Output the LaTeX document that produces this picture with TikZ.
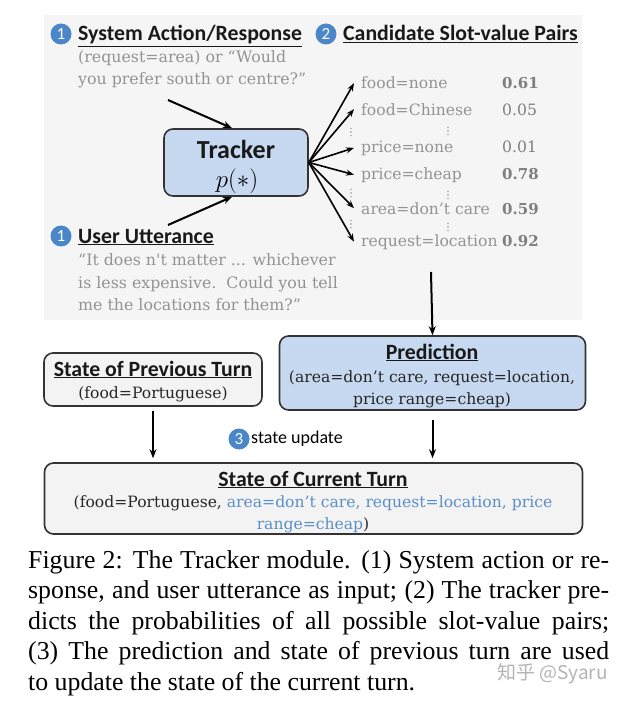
\documentclass[tikz,border=0pt]{standalone}
\usepackage{fontspec}
\setmainfont{Liberation Serif}
\newfontfamily\calfont{Carlito}
\newfontfamily\camfont{DejaVu Serif}
\newfontfamily\cjkfont{Noto Sans CJK SC}
\usetikzlibrary{arrows.meta}
\definecolor{panelgray}{HTML}{F5F5F5}
\definecolor{boxgray}{HTML}{F3F3F3}
\definecolor{boxblue}{HTML}{C6D9F0}
\definecolor{edgegray}{HTML}{333333}
\definecolor{txtgray}{HTML}{939393}
\definecolor{numgray}{HTML}{7F7F7F}
\definecolor{circblue}{HTML}{4A86C8}
\definecolor{hlblue}{HTML}{5A8FC8}
\definecolor{wmgray}{HTML}{B4B4B4}
\tikzset{
  txt/.style={inner sep=0pt, anchor=base west},
  headtxt/.style={txt, font=\calfont\bfseries\fontsize{21.8}{24}\selectfont, text=black!90},
  graytxt/.style={txt, font=\camfont\fontsize{15.8}{20}\selectfont, text=txtgray},
  itemtxt/.style={anchor=base west, inner ysep=0pt, inner xsep=7pt, font=\camfont\fontsize{15.6}{20}\selectfont, text=txtgray},
  numtxt/.style={txt, font=\camfont\fontsize{15.6}{20}\selectfont, text=numgray},
  bnumtxt/.style={numtxt, font=\camfont\bfseries\fontsize{15}{20}\selectfont},
  badge/.style={circle, fill=circblue, text=white, inner sep=0pt, minimum size=21pt, font=\calfont\fontsize{17}{18}\selectfont},
  boxstyle/.style={draw=edgegray, line width=1.6pt, rounded corners=9pt, inner sep=0pt},
  bodytxt/.style={inner sep=0pt, anchor=base, font=\camfont\fontsize{15.6}{20}\selectfont, text=black!85},
  arr/.style={line width=2pt, -{Stealth[length=9pt,width=7pt]}},
  farr/.style={line width=1.6pt, -{Stealth[length=8pt,width=6pt]}},
  dotc/.style={fill=txtgray, draw=none, circle, inner sep=0pt, minimum size=1.6pt},
  captxt/.style={inner sep=0pt, anchor=base west, font=\fontsize{25.8}{30}\selectfont}
}
\begin{document}
\begin{tikzpicture}[x=1pt,y=-1pt]
\useasboundingbox (0,0) rectangle (625,706);
\fill[white] (0,0) rectangle (625,706);
\fill[panelgray] (44,15) rectangle (582,320);

% ---- headings
\node[badge] (b1) at (61,34) {1};
\node[headtxt] (syshead) at (78,41) {\underline{System Action/Response}};
\node[badge] (b2) at (326,34) {2};
\node[headtxt] (candhead) at (343,41) {\underline{Candidate Slot-value Pairs}};
\node[graytxt] (sys1) at (78,63) {(request=area) or “Would};
\node[graytxt] (sys2) at (78,85) {you prefer south or centre?”};

\node[badge] (b1b) at (61,236) {1};
\node[headtxt] (usrhead) at (78,243) {\underline{User Utterance}};
\node[graytxt] (usr1) at (78,265) {“It does n't matter ... whichever};
\node[graytxt] (usr2) at (78,288) {is less expensive.\ \ Could you tell};
\node[graytxt] (usr3) at (78,310) {me the locations for them?”};

% ---- tracker
\node[boxstyle, fill=boxblue, minimum width=144pt, minimum height=67pt] (tracker) at (236,162.5) {};
\node[inner sep=0pt, anchor=base, font=\calfont\bfseries\fontsize{26}{28}\selectfont, text=black!90] (trackt) at (236,158) {Tracker};
\node[inner sep=0pt, anchor=base, font=\fontsize{25}{28}\selectfont] (trackp) at (237,187) {$p(*)$};

\coordinate (sysout) at (168,100);
\coordinate (usrout) at (168,225);
\draw[arr] (sysout) -- ([xshift=-4pt]tracker.north);
\draw[arr] (usrout) -- ([xshift=-4pt]tracker.south);

% ---- candidate pairs
\node[itemtxt] (i1) at (354,89) {food=none};
\node[itemtxt] (i2) at (354,115) {food=Chinese};
\node[itemtxt] (i3) at (354,152) {price=none};
\node[itemtxt] (i4) at (354,179) {price=cheap};
\node[itemtxt] (i5) at (354,214) {area=don’t care};
\node[itemtxt] (i6) at (354,246) {request=location};
\node[bnumtxt] (n1) at (502,89) {0.61};
\node[numtxt]  (n2) at (502,115) {0.05};
\node[numtxt]  (n3) at (502,152) {0.01};
\node[bnumtxt] (n4) at (502,179) {0.78};
\node[bnumtxt] (n5) at (502,214) {0.59};
\node[bnumtxt] (n6) at (502,246) {0.92};

\coordinate (fan) at (tracker.east);
\foreach \i in {1,...,6} { \draw[farr] (fan) -- (i\i.west); }

% vertical dots
\foreach \x/\y in {351/132, 351/193, 351/224, 448/131, 448/195, 448/227} {
  \foreach \d in {-3.6,0,3.6} { \node[dotc] at (\x,\y+\d) {}; }
}

% ---- lower part
\coordinate (panelout) at (431,272);
\node[boxstyle, fill=boxblue, minimum width=306pt, minimum height=74pt] (pred) at (432.5,373) {};
\node[headtxt, anchor=base] (predt) at (432,359) {\underline{Prediction}};
\node[bodytxt] (pred1) at (432,382) {(area=don’t care, request=location,};
\node[bodytxt] (pred2) at (432,404) {price range=cheap)};
\draw[arr] (panelout) -- (pred.north);

\node[boxstyle, fill=boxgray, minimum width=218pt, minimum height=53pt] (prev) at (153,379.5) {};
\node[headtxt, anchor=base] (prevt) at (153,376) {\underline{State of Previous Turn}};
\node[bodytxt] (prev1) at (153,398) {(food=Portuguese)};

\node[boxstyle, fill=boxgray, minimum width=538pt, minimum height=71pt] (cur) at (313.5,498.5) {};
\node[headtxt, anchor=base] (curt) at (313,486) {\underline{State of Current Turn}};
\node[bodytxt] (cur1) at (313,507) {(food=Portuguese, \textcolor{hlblue}{area=don’t care, request=location, price}};
\node[bodytxt] (cur2) at (313,529) {\textcolor{hlblue}{range=cheap})};

\draw[arr, shorten <=4pt, shorten >=4pt] (prev.south) -- (prev.south |- cur.north);
\draw[arr, shorten <=9pt, shorten >=4pt] (pred.south) -- (pred.south |- cur.north);

\node[badge] (b3) at (239,439) {3};
\node[txt, anchor=west, font=\calfont\fontsize{18}{20}\selectfont] (upd) at (251,439) {state update};

% ---- caption
\node[captxt] (c1) at (28,568) {\makebox[581pt][s]{Figure 2: The Tracker module. (1) System action or re-}};
\node[captxt] (c2) at (28,598) {\makebox[581pt][s]{sponse, and user utterance as input; (2) The tracker pre-}};
\node[captxt] (c3) at (28,629) {\makebox[581pt][s]{dicts the probabilities of all possible slot-value pairs;}};
\node[captxt] (c4) at (28,659) {\makebox[581pt][s]{(3) The prediction and state of previous turn are used}};
\node[captxt] (c5) at (28,690) {to update the state of the current turn.};
\node[txt, anchor=west, font=\cjkfont\fontsize{19}{20}\selectfont, text=wmgray] (wm) at (497,674) {知乎 @Syaru};
\end{tikzpicture}
\end{document}
